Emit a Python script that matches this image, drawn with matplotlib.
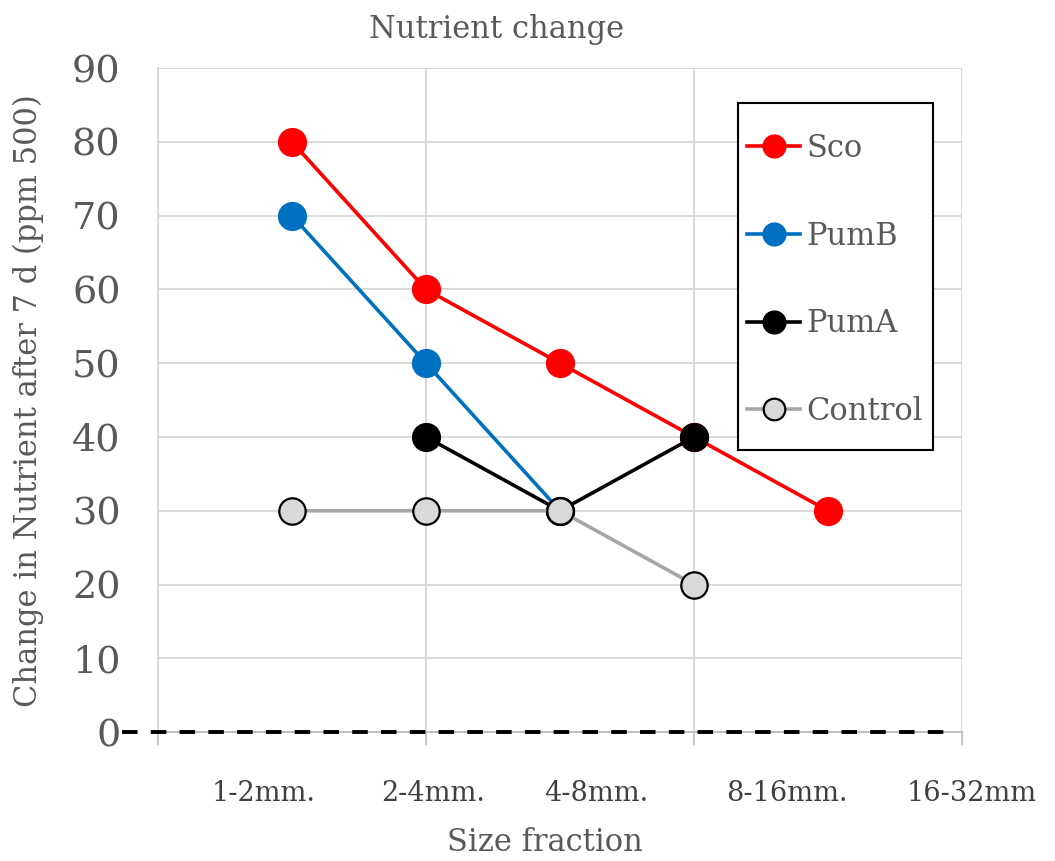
import matplotlib.pyplot as plt
import matplotlib.transforms as mtransforms
from matplotlib.patches import Rectangle

# series values per size class (x = 1..5)
SCO_X = [1, 2, 3, 4, 5]
SCO_Y = [80, 60, 50, 40, 30]
PUMB_X = [1, 2, 3]
PUMB_Y = [70, 50, 30]
PUMA_X = [2, 3, 4]
PUMA_Y = [40, 30, 40]
CONTROL_X = [1, 2, 3, 4]
CONTROL_Y = [30, 30, 30, 20]

SIZE_LABELS = ["1-2mm.", "2-4mm.", "4-8mm.", "8-16mm.", "16-32mm"]
LABEL_POS = [0.79, 2.05, 3.27, 4.69, 6.07]

GREY_TXT = "#595959"
GRID = "#D9D9D9"

plt.rcParams["font.family"] = ["DejaVu Serif"]

fig = plt.figure(figsize=(10.55, 8.61), dpi=100)
ax = fig.add_axes([0.1498, 0.1498, 0.762, 0.771])

ms = 20
lw = 2.6
ax.plot(SCO_X, SCO_Y, color="#FF0000", lw=lw, marker="o", ms=ms,
        mec="#FF0000", mfc="#FF0000", label="Sco", zorder=3)
ax.plot(PUMB_X, PUMB_Y, color="#0070C0", lw=lw, marker="o", ms=ms,
        mec="#0070C0", mfc="#0070C0", label="PumB", zorder=4)
ax.plot(PUMA_X, PUMA_Y, color="black", lw=lw, marker="o", ms=ms,
        mec="black", mfc="black", label="PumA", zorder=5)
ax.plot(CONTROL_X, CONTROL_Y, color="#A6A6A6", lw=lw, marker="o", ms=ms - 1,
        mec="black", mew=1.6, mfc="#D9D9D9", label="Control", zorder=6)

# dashed zero line running past the plot area
ax.plot([-0.27, 5.91], [0, 0], color="black", lw=2.8, ls=(0, (4, 3.4)),
        clip_on=False, zorder=7)

ax.set_xlim(0, 6)
ax.set_ylim(0, 90)
ax.set_xticks([0, 2, 4, 6])
ax.set_xticklabels([])
ax.set_yticks(range(0, 91, 10))
ax.tick_params(axis="x", length=9.5, width=1.2, color="#BFBFBF", direction="out")
ax.tick_params(axis="y", length=0, pad=27, labelsize=27.5, labelcolor=GREY_TXT)
ax.grid(True, color=GRID, lw=1.4)
ax.set_axisbelow(True)
for side in ["top", "right"]:
    ax.spines[side].set_visible(False)
ax.spines["left"].set_color(GRID)
ax.spines["left"].set_linewidth(1.4)
ax.spines["bottom"].set_color("#BFBFBF")
ax.spines["bottom"].set_linewidth(1.4)

trans = mtransforms.blended_transform_factory(ax.transData, ax.transAxes)
for pos, lab in zip(LABEL_POS, SIZE_LABELS):
    ax.text(pos, -0.092, lab, transform=trans, ha="center", va="center",
            fontsize=19.5, color="#404040")

fig.text(0.517, 0.022, "Size fraction", ha="center", va="center",
         fontsize=22, color=GREY_TXT)
fig.text(0.471, 0.966, "Nutrient change", ha="center", va="center",
         fontsize=22, color=GREY_TXT)
fig.text(0.027, 0.535, "Change in Nutrient after 7 d (ppm 500)", rotation=90,
         ha="center", va="center", fontsize=22, color=GREY_TXT)

# legend without its own frame; the tall box is drawn separately
leg = ax.legend(loc="center left", bbox_to_anchor=(0.7326, 0.681), fontsize=22,
                labelspacing=1.85, handlelength=1.75, handletextpad=0.2,
                borderpad=0, borderaxespad=0, frameon=False, markerscale=0.82)
leg.set_zorder(9)
for t in leg.get_texts():
    t.set_color(GREY_TXT)
ax.add_patch(Rectangle((0.7214, 0.4247), 0.2425, 0.5226, transform=ax.transAxes,
                       facecolor="white", edgecolor="black", lw=1.5, zorder=8))

fig.savefig("out.png", dpi=100)
